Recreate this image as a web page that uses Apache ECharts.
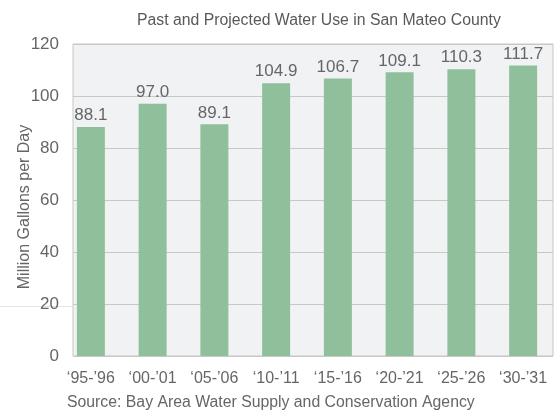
<!DOCTYPE html>
<html>
<head>
<meta charset="utf-8">
<script src="https://cdn.jsdelivr.net/npm/echarts@6/dist/echarts.min.js"></script>
<style>
  html, body { margin: 0; padding: 0; background: #fff; }
  #chart { width: 554px; height: 416px; }
</style>
</head>
<body>
<div id="chart"></div>
<script>
// fiscal years
const years = ['\u201895-\u201996', '\u201800-\u201901', '\u201805-\u201906', '\u201810-\u201911',
  '\u201815-\u201916', '\u201820-\u201921', '\u201825-\u201926', '\u201830-\u201931'];
// million gallons per day
const waterUse = [88.1, 97.0, 89.1, 104.9, 106.7, 109.1, 110.3, 111.7];
const yTicks = { min: 0, max: 120, interval: 20 };

const font = 'Liberation Sans, Arial, sans-serif';
const grey = '#666666';

const chart = echarts.init(document.getElementById('chart'), null, { renderer: 'canvas' });

const option = {
  animation: false,
  title: {
    text: 'Past and Projected Water Use in San Mateo County',
    left: 132,
    top: 8,
    textStyle: { fontFamily: font, fontSize: 15.8, fontWeight: 'normal', color: '#595959' }
  },
  grid: [
    // panel with gridlines
    { left: 73, right: 1, top: 44, bottom: 60, show: true, backgroundColor: '#f1f2f4',
      borderColor: '#c6c6c6', borderWidth: 1 },
    // bars (category band sits a little left of the panel, like the original)
    { left: 60, right: 0, top: 44, bottom: 60 }
  ],
  xAxis: [
    { type: 'category', gridIndex: 0, data: years, show: false },
    {
      type: 'category', gridIndex: 1, data: years,
      axisLine: { show: false }, axisTick: { show: false },
      axisLabel: { interval: 0, fontFamily: font, fontSize: 16, color: grey, margin: 15 }
    }
  ],
  yAxis: [
    {
      type: 'value', gridIndex: 0, min: yTicks.min, max: yTicks.max, interval: yTicks.interval,
      name: 'Million Gallons per Day', nameLocation: 'middle', nameGap: 40,
      nameMoveOverlap: false,
      nameTextStyle: { fontFamily: font, fontSize: 16, color: grey, padding: [0, 0, 0, -14] },
      axisLine: { show: false }, axisTick: { show: false },
      axisLabel: { fontFamily: font, fontSize: 17, color: grey, margin: 14 },
      splitLine: { lineStyle: { color: '#c8c8c8', width: 1 } }
    },
    { type: 'value', gridIndex: 1, min: yTicks.min, max: yTicks.max, interval: yTicks.interval, show: false }
  ],
  series: [{
    type: 'bar',
    xAxisIndex: 1, yAxisIndex: 1,
    data: waterUse,
    barWidth: 28,
    itemStyle: { color: '#8fbf9b' },
    label: {
      show: true, position: 'top', distance: 3,
      fontFamily: font, fontSize: 17, color: grey,
      formatter: p => p.value.toFixed(1)
    }
  }],
  graphic: [
    { type: 'line', shape: { x1: 0, y1: 306.5, x2: 73, y2: 306.5 },
      style: { stroke: '#e4e4e4', lineWidth: 1 }, silent: true },
    { type: 'text', left: 67, top: 395,
      style: { text: 'Source: Bay Area Water Supply and Conservation Agency',
        fontFamily: font, fontSize: 15.8, fill: grey } }
  ]
};

chart.setOption(option);
</script>
</body>
</html>
